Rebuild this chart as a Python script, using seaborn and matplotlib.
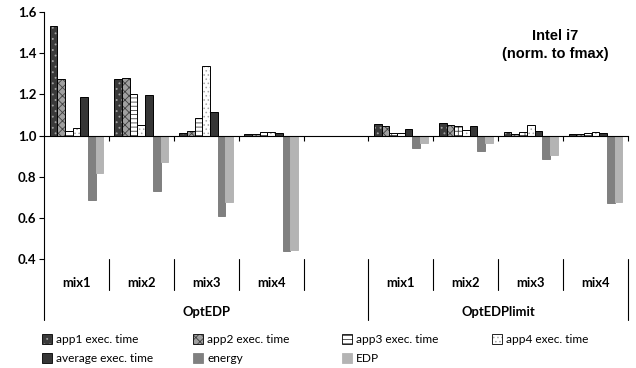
import matplotlib
matplotlib.use('Agg')
import matplotlib.pyplot as plt
import matplotlib.transforms as mtransforms
from matplotlib.patches import Patch
from matplotlib.colors import to_rgba
import numpy as np
import pandas as pd
import seaborn as sns

# ---------------- data ----------------
policies = ['OptEDP', 'OptEDPlimit']
mixes = ['mix1', 'mix2', 'mix3', 'mix4']
series = ['app1 exec. time', 'app2 exec. time', 'app3 exec. time',
          'app4 exec. time', 'average exec. time', 'energy', 'EDP']

# order of values: OptEDP mix1..mix4, OptEDPlimit mix1..mix4
app1 = [1.530, 1.275, 1.010, 1.008, 1.058, 1.061, 1.015, 1.008]
app2 = [1.275, 1.280, 1.024, 1.005, 1.044, 1.052, 1.006, 1.008]
app3 = [1.020, 1.199, 1.086, 1.019, 1.013, 1.044, 1.015, 1.011]
app4 = [1.035, 1.052, 1.339, 1.019, 1.011, 1.026, 1.053, 1.015]
avg_time = [1.187, 1.194, 1.115, 1.013, 1.031, 1.045, 1.023, 1.010]
energy = [0.687, 0.732, 0.609, 0.441, 0.940, 0.926, 0.887, 0.674]
edp = [0.819, 0.871, 0.678, 0.446, 0.963, 0.963, 0.905, 0.678]

yticks = [0.4, 0.6, 0.8, 1.0, 1.2, 1.4, 1.6]
title_text = 'Intel i7\n(norm. to fmax)'
baseline = 1.0

# ---------------- style ----------------
sns.set_style('white')
plt.rcParams['font.family'] = ['Lato', 'DejaVu Sans']
plt.rcParams.update({
    'text.color': 'black', 'axes.labelcolor': 'black',
    'xtick.color': 'black', 'ytick.color': 'black',
    'axes.edgecolor': 'black', 'hatch.linewidth': 0.6,
})

slots = [f'{p}|{m}' for p in policies for m in mixes]
order = slots[:4] + ['OptEDP|'] + slots[4:]

rows = []
for s, vals in zip(series, [app1, app2, app3, app4, avg_time, energy, edp]):
    for slot, v in zip(slots, vals):
        rows.append(dict(slot=slot, series=s, value=v, delta=v - baseline))
df = pd.DataFrame(rows)

fills = ['#3a3a3a', '#a0a0a0', '#ffffff', '#ffffff', '#363636', '#808080', '#b4b4b4']
hatches = ['...', 'xxxx', '----|', '....', '', '', '']
hatch_cols = ['#a0a0a0', '#404040', '#404040', '#a8a8a8', None, None, None]
edges = ['black'] * 5 + ['#808080', '#b4b4b4']

fig = plt.figure(figsize=(6.36, 3.68), dpi=100)
ax = fig.add_axes([44 / 636, 1 - 259.3 / 368, 584 / 636, 247.6 / 368])

sns.barplot(data=df, x='slot', y='delta', hue='series', order=order,
            hue_order=series, palette=dict(zip(series, fills)), width=0.83,
            errorbar=None, bottom=baseline, legend=False, linewidth=0.7,
            edgecolor='black', ax=ax)

for cont, h, hc, ec in zip(ax.containers, hatches, hatch_cols, edges):
    for p in cont:
        p.set_edgecolor(ec)
        if h:
            p.set_hatch(h)
            p._hatch_color = to_rgba(hc)

# ---------------- axes ----------------
ax.set_xlim(-0.5, len(order) - 0.5)
ax.set_ylim(yticks[0], yticks[-1])
ax.set_yticks(yticks)
ax.set_yticklabels([f'{t:.1f}' for t in yticks], fontweight='bold', fontsize=9.5)
ax.set_xticks(np.arange(0.5, len(order) - 0.4, 1))
ax.set_xticklabels([])
ax.set_xlabel('')
ax.set_ylabel('')
for s in ['top', 'right']:
    ax.spines[s].set_visible(False)
ax.spines['bottom'].set_position(('data', baseline))
ax.spines['bottom'].set_linewidth(0.8)
ax.spines['left'].set_linewidth(0.8)
ax.tick_params(axis='x', bottom=True, direction='out', length=3.5, width=0.8)
ax.tick_params(axis='y', left=True, direction='out', length=3.5, width=0.8, pad=2)

# multi-level category axis below the plot
trans = mtransforms.blended_transform_factory(ax.transData, ax.transAxes)
for i, slot in enumerate(order):
    pol, mix = slot.split('|')
    ax.text(i, -0.0945, mix, transform=trans, ha='center', va='center',
            fontweight='bold', fontsize=9.4)
    nxt = order[i + 1].split('|')[0] if i + 1 < len(order) else None
    if nxt == pol:
        ax.plot([i + 0.5, i + 0.5], [0, -0.124], transform=trans,
                color='black', lw=0.8, clip_on=False)
    else:
        ax.plot([i + 0.5, i + 0.5], [0, -0.245], transform=trans,
                color='black', lw=0.8, clip_on=False)
ax.plot([-0.5, -0.5], [0, -0.245], transform=trans, color='black', lw=0.8,
        clip_on=False)
for pol in policies:
    idx = [i for i, s in enumerate(order) if s.split('|')[0] == pol]
    ax.text((min(idx) + max(idx)) / 2, -0.212, pol, transform=trans,
            ha='center', va='center', fontweight='bold', fontsize=9.4)

ax.text(0.876, 0.865, title_text, transform=ax.transAxes, ha='center',
        va='center', fontweight='bold', fontsize=10.5, linespacing=1.3,
        family=['Liberation Sans', 'DejaVu Sans'])

# ---------------- legend (4 equal-width columns) ----------------
handles = []
for fc, h, hc, ec in zip(fills, hatches, hatch_cols, edges):
    hp = Patch(facecolor=fc, edgecolor=ec, hatch=h, linewidth=0.6)
    if h:
        hp._hatch_color = to_rgba(hc)
    handles.append(hp)
col_x = [42, 193, 342, 492]
col_items = [[0, 4], [1, 5], [2, 6], [3]]
for xpx, idxs in zip(col_x, col_items):
    fig.legend(handles=[handles[i] for i in idxs],
               labels=[series[i] for i in idxs], loc='upper left',
               bbox_to_anchor=(xpx / 636, 1 - 334 / 368), frameon=False,
               fontsize=8.6, handlelength=0.85, handleheight=0.85,
               handletextpad=0.35, borderpad=0, borderaxespad=0,
               labelspacing=0.7)

fig.savefig('out.png', dpi=100)
